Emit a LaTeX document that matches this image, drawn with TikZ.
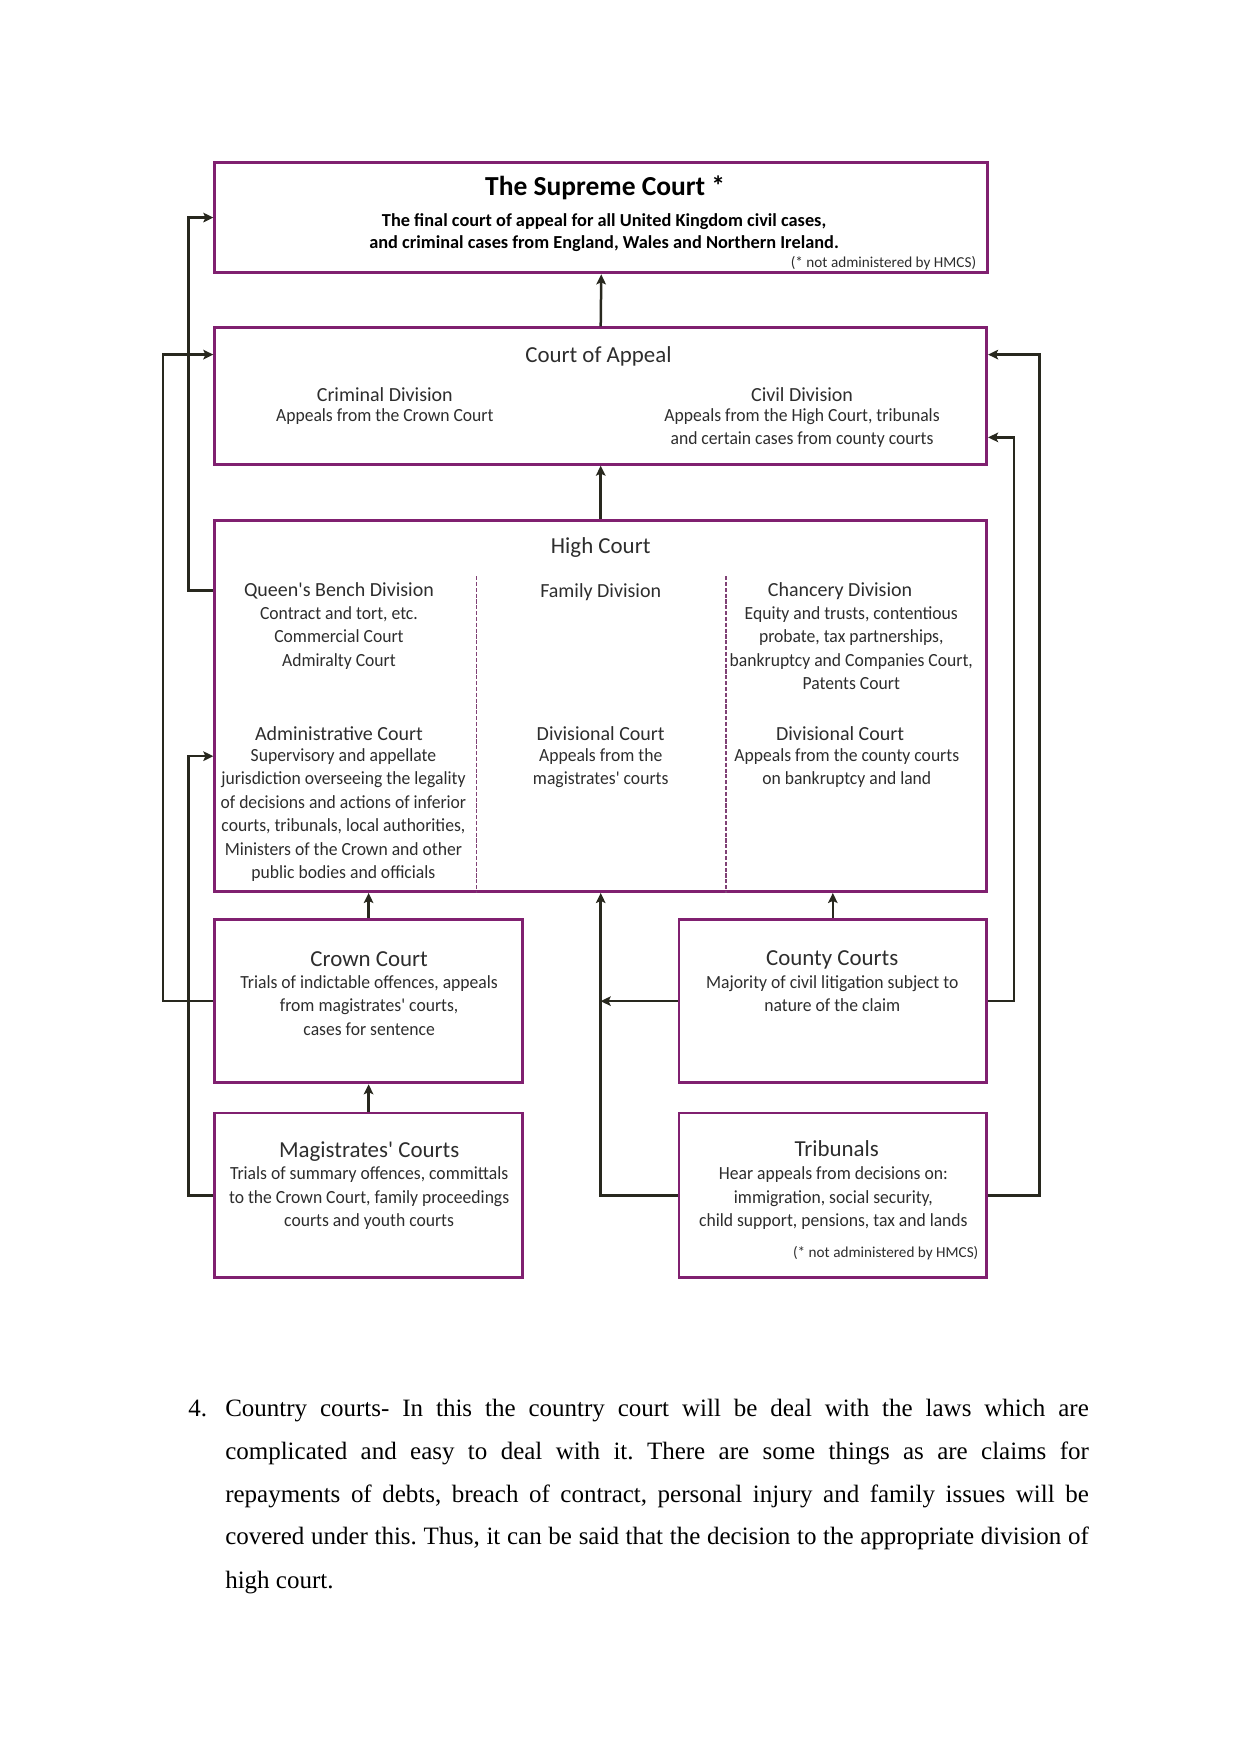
\documentclass[tikz,border=0pt]{standalone}
\usepackage{fontspec}
\setmainfont{Liberation Serif}
\newfontfamily\gill{Carlito}
\newfontfamily\gilln{Carlito}[FakeStretch=0.95]
\usetikzlibrary{arrows.meta,fit,calc}
\definecolor{plum}{RGB}{128,32,112}
\definecolor{ink}{RGB}{40,40,30}
\definecolor{txt}{RGB}{45,45,45}
\begin{document}
\frenchspacing
\begin{tikzpicture}[x=0.5372pt,y=-0.5372pt,
  box/.style={draw=plum,line width=1.4pt,inner sep=0pt},
  conn/.style={draw=ink,line width=1.2pt,-{Stealth[length=4.8pt,width=4.6pt,inset=1pt]}},
  bigttl/.style={font=\gill\bfseries\fontsize{13.2}{15}\selectfont,text=black,inner sep=0pt},
  bigsub/.style={font=\gill\bfseries\fontsize{8.8}{10.2}\selectfont,text=black,inner sep=0pt,align=center},
  ttl/.style={font=\gill\fontsize{11}{13}\selectfont,text=txt,inner sep=0pt,yshift=-1pt},
  divttl/.style={font=\gill\fontsize{9.6}{12}\selectfont,text=txt,inner sep=0pt,yshift=-0.8pt},
  sub/.style={font=\gilln\fontsize{8.9}{11.28}\selectfont,text=txt,align=center,inner sep=0pt,anchor=north,yshift=-0.4pt},
  note/.style={font=\gill\fontsize{7.3}{8}\selectfont,text=txt,inner sep=0pt},
  divider/.style={draw=plum!65!gray,line width=0.6pt,dash pattern=on 2pt off 0.8pt},
  para/.style={font=\fontsize{12}{14}\selectfont,inner sep=0pt,anchor=base west}]

\useasboundingbox (0,0) rectangle (1109,1568);

% ---------- boxes ----------
\node[box,fit={(192,145) (883,244)}] (sup) {};
\node[box,fit={(192,293) (882,415)}] (coa) {};
\node[box,fit={(192,465) (882,797)}] (hc) {};
\node[box,fit={(192,822) (467,968)}] (crown) {};
\node[box,fit={(607,822) (882,968)}] (county) {};
\node[box,fit={(192,995) (467,1142)}] (mag) {};
\node[box,fit={(607,995) (882,1142)}] (trib) {};

% dividers in High Court
\coordinate (d1t) at (426,515);
\coordinate (d2t) at (649,515);
\draw[divider] (d1t) -- (d1t |- hc.south);
\draw[divider] (d2t) -- (d2t |- hc.south);

% ---------- Supreme Court ----------
\node[bigttl] (supttl) at (541,168) {The Supreme Court *};
\node[bigsub,anchor=north] (supsub) at (540,191) {The final court of appeal for all United Kingdom civil cases,\\and criminal cases from England, Wales and Northern Ireland.};
\node[note,anchor=east] (supnote) at (873,235) {(* not administered by HMCS)};

% ---------- Court of Appeal ----------
\node[ttl] (coattl) at (535,317) {Court of Appeal};
\node[divttl] (crim) at (344,351) {Criminal Division};
\node[sub] (crimsub) at (344,364) {Appeals from the Crown Court};
\node[divttl] (civ) at (717,351) {Civil Division};
\node[sub] (civsub) at (717,364) {Appeals from the High Court, tribunals\\and certain cases from county courts};

% ---------- High Court ----------
\node[ttl] (hcttl) at (537,488) {High Court};
\node[divttl] (qbd) at (303,527) {Queen's Bench Division};
\node[sub] (qbdsub) at (303,541) {Contract and tort, etc.\\Commercial Court\\Admiralty Court};
\node[divttl] (fam) at (537,528) {Family Division};
\node[divttl] (chan) at (751,527) {Chancery Division};
\node[sub] (chansub) at (761,541) {Equity and trusts, contentious\\probate, tax partnerships,\\bankruptcy and Companies Court,\\Patents Court};
\node[divttl] (adm) at (303,654) {Administrative Court};
\node[sub] (admsub) at (307,668) {Supervisory and appellate\\jurisdiction overseeing the legality\\of decisions and actions of inferior\\courts, tribunals, local authorities,\\Ministers of the Crown and other\\public bodies and officials};
\node[divttl] (div1) at (537,654) {Divisional Court};
\node[sub] (div1sub) at (537,668) {Appeals from the\\magistrates' courts};
\node[divttl] (div2) at (751,654) {Divisional Court};
\node[sub] (div2sub) at (757,668) {Appeals from the county courts\\on bankruptcy and land};

% ---------- lower courts ----------
\node[ttl] (crownttl) at (330,856) {Crown Court};
\node[sub] (crownsub) at (330,871) {Trials of indictable offences, appeals\\from magistrates' courts,\\cases for sentence};
\node[ttl] (countyttl) at (744,856) {County Courts};
\node[sub] (countysub) at (744,871) {Majority of civil litigation subject to\\nature of the claim};
\node[ttl] (magttl) at (330,1028) {Magistrates' Courts};
\node[sub] (magsub) at (330,1042) {Trials of summary offences, committals\\to the Crown Court, family proceedings\\courts and youth courts};
\node[ttl] (tribttl) at (748,1025) {Tribunals};
\node[sub] (tribsub) at (745,1042) {Hear appeals from decisions on:\\immigration, social security,\\child support, pensions, tax and lands};
\node[note,anchor=east] (tribnote) at (875,1120) {(* not administered by HMCS)};

% ---------- connectors ----------
\draw[conn] (coa.north) -- (sup.south);
\draw[conn] (hc.north) -- (coa.south);
\draw[conn] (crown.north) -- (crown.north |- hc.south);
\draw[conn] (county.north) -- (county.north |- hc.south);
\draw[conn] (mag.north) -- (crown.south);
\draw[conn] (trib.west) -| (hc.south);
\draw[conn] (county.west) -- (county.west -| hc.south);
\draw[conn] (hc.west |- 0,528) -- ++(-22,0) |- (sup.west);
\draw[conn] (crown.west) -- ++(-45,0) |- (coa.west |- 0,317);
\draw[conn] (mag.west) -- ++(-22,0) |- (hc.west |- 0,676);
\draw[conn] (trib.east) -- ++(46,0) |- (coa.east |- 0,317);
\draw[conn] (county.east) -- ++(23,0) |- (coa.east |- 0,391);

% ---------- body text ----------
\node[para] (num) at (168,1266) {4.};
\node[para] (l1) at (201,1266) {\makebox[414.7pt][s]{Country courts- In this the country court will be deal with the laws which are}};
\node[para] (l2) at (201,1305) {\makebox[414.7pt][s]{complicated and easy to deal with it. There are some things as are claims for}};
\node[para] (l3) at (201,1343) {\makebox[414.7pt][s]{repayments of debts, breach of contract, personal injury and family issues will be}};
\node[para] (l4) at (201,1381) {\makebox[414.7pt][s]{covered under this. Thus, it can be said that the decision to the appropriate division of}};
\node[para] (l5) at (201,1420) {high court.};
\end{tikzpicture}
\end{document}
